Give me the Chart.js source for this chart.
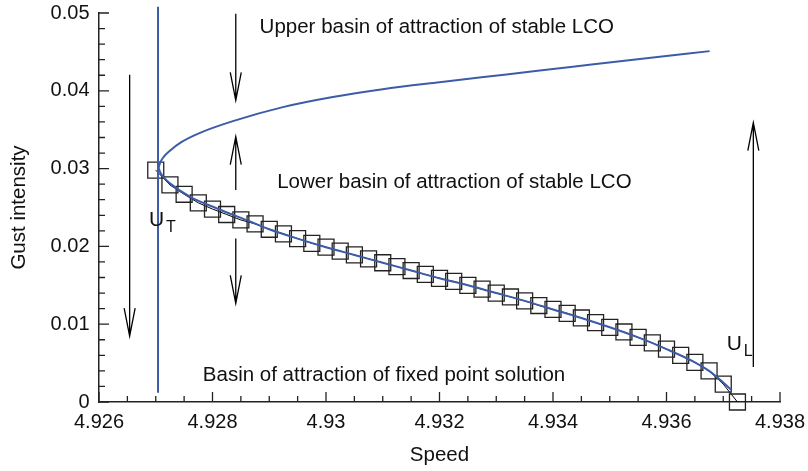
<!DOCTYPE html>
<html>
<head>
<meta charset="utf-8">
<script src="https://cdn.jsdelivr.net/npm/chart.js@4.4.1/dist/chart.umd.min.js"></script>
<style>
  html, body { margin: 0; padding: 0; background: #fff; }
</style>
</head>
<body>
<canvas id="chart" width="808" height="471"></canvas>
<script>
// 축 눈금 /////////////////////////////////////////////////////////////
const xTicks = [4.926, 4.928, 4.93, 4.932, 4.934, 4.936, 4.938];
const xTickLabels = ['4.926', '4.928', '4.93', '4.932', '4.934', '4.936', '4.938'];
const yTicks = [0, 0.01, 0.02, 0.03, 0.04, 0.05];
const yTickLabels = ['0', '0.01', '0.02', '0.03', '0.04', '0.05'];

// 사각형 마커 (unstable branch)
const squareSpeed = [4.927, 4.92725, 4.9275, 4.92775, 4.928, 4.92825, 4.9285, 4.92875, 4.929, 4.92925,
  4.9295, 4.92975, 4.93, 4.93025, 4.9305, 4.93075, 4.931, 4.93125, 4.9315, 4.93175,
  4.932, 4.93225, 4.9325, 4.93275, 4.933, 4.93325, 4.9335, 4.93375, 4.934, 4.93425,
  4.9345, 4.93475, 4.935, 4.93525, 4.9355, 4.93575, 4.936, 4.93625, 4.9365, 4.93675,
  4.937, 4.93725];
const squareGust = [0.0298, 0.0279, 0.0267, 0.0256, 0.0248, 0.0241, 0.0234, 0.0229, 0.0222, 0.0216,
  0.0210, 0.0204, 0.0199, 0.0194, 0.0189, 0.0184, 0.0179, 0.0174, 0.0169, 0.0164,
  0.0159, 0.0155, 0.0150, 0.0145, 0.0140, 0.0135, 0.0130, 0.0124, 0.0119, 0.0114,
  0.0108, 0.0102, 0.0096, 0.0090, 0.0083, 0.0076, 0.0068, 0.0060, 0.0051, 0.0040,
  0.0023, 0.0000];

// 파란 곡선 - 위쪽 가지 (stable LCO)
const upperSpeed = [4.92705, 4.92708, 4.92714, 4.92725, 4.92745, 4.92778, 4.92836, 4.92924, 4.93012,
  4.931, 4.932, 4.93318, 4.93435, 4.93553, 4.93676];
const upperGust = [0.0301, 0.0308, 0.0315, 0.0323, 0.0334, 0.0346, 0.0361, 0.0379, 0.0392,
  0.0402, 0.0411, 0.0421, 0.0431, 0.0441, 0.0451];

// 파란 곡선 - 아래쪽 가지
const lowerSpeed = [4.92705, 4.92708, 4.92715, 4.92725, 4.9276, 4.92807, 4.92866, 4.929, 4.9295,
  4.93, 4.9305, 4.931, 4.9315, 4.932, 4.9325, 4.933, 4.9335, 4.934, 4.9345, 4.935, 4.9355,
  4.936, 4.9365, 4.93675, 4.937, 4.93715];
const lowerGust = [0.0301, 0.0295, 0.0288, 0.0281, 0.0264, 0.0249, 0.0232, 0.0222, 0.0210,
  0.0199, 0.0189, 0.0179, 0.0169, 0.0159, 0.0150, 0.0140, 0.0130, 0.0119, 0.0108, 0.0096, 0.0083,
  0.0068, 0.0051, 0.0040, 0.0025, 0.0015];

// 세로선 U_T
const vlineSpeed = [4.92704, 4.92704];
const vlineGust = [0.0012, 0.0508];

// 화살표 (x, 시작, 끝=화살촉)
const arrowSpeed = [4.92654, 4.92841, 4.92841, 4.92841, 4.93753];
const arrowFrom = [0.04207, 0.0499, 0.02725, 0.02103, 0.0045];
const arrowTo = [0.00846, 0.03878, 0.0341, 0.01267, 0.03592];

// 글자 주석
const notes = [
  { text: 'Upper basin of attraction of stable LCO', x: 4.92883, y: 0.04743 },
  { text: 'Lower basin of attraction of stable LCO', x: 4.92914, y: 0.02747 },
  { text: 'Basin of attraction of fixed point solution', x: 4.92783, y: 0.00267 }
];
const subNotes = [
  { main: 'U', sub: 'T', x: 4.92688, y: 0.02262 },
  { main: 'U', sub: 'L', x: 4.93706, y: 0.00666 }
];

const pts = (xs, ys) => xs.map((v, i) => ({ x: v, y: ys[i] }));
const blue = '#3d5ca8';
const FONT = "'Liberation Sans', Arial, sans-serif";

// 안쪽 눈금 + 화살표 + 글자
const extras = {
  id: 'extras',
  afterDatasetsDraw(chart) {
    const { ctx, chartArea: a, scales: { x, y } } = chart;
    ctx.save();
    ctx.strokeStyle = '#222';
    ctx.lineWidth = 1.3;
    ctx.beginPath();
    // x 눈금 (위로)
    for (let i = 0; i < xTicks.length; i++) {
      const sub = i < xTicks.length - 1 ? 4 : 1;
      const step = i < xTicks.length - 1 ? (xTicks[i + 1] - xTicks[i]) / 4 : 0;
      for (let k = 0; k < sub; k++) {
        const px = x.getPixelForValue(xTicks[i] + k * step);
        ctx.moveTo(px, a.bottom);
        ctx.lineTo(px, a.bottom - (k === 0 ? 10 : 6));
      }
    }
    // y 눈금 (오른쪽으로)
    for (let i = 0; i < yTicks.length; i++) {
      const sub = i < yTicks.length - 1 ? 5 : 1;
      const step = i < yTicks.length - 1 ? (yTicks[i + 1] - yTicks[i]) / 5 : 0;
      for (let k = 0; k < sub; k++) {
        const py = y.getPixelForValue(yTicks[i] + k * step);
        ctx.moveTo(a.left, py);
        ctx.lineTo(a.left + (k === 0 ? 10 : 6), py);
      }
    }
    ctx.stroke();

    // 화살표
    ctx.strokeStyle = '#000';
    ctx.lineWidth = 1.3;
    arrowSpeed.forEach((sp, i) => {
      const px = x.getPixelForValue(sp);
      const y0 = y.getPixelForValue(arrowFrom[i]);
      const y1 = y.getPixelForValue(arrowTo[i]);
      const dir = y1 > y0 ? 1 : -1;
      ctx.beginPath();
      ctx.moveTo(px, y0);
      ctx.lineTo(px, y1);
      ctx.moveTo(px - 5.5, y1 - dir * 28);
      ctx.lineTo(px, y1);
      ctx.lineTo(px + 5.5, y1 - dir * 28);
      ctx.stroke();
    });

    // 주석 글자
    ctx.fillStyle = '#111';
    ctx.textBaseline = 'alphabetic';
    ctx.textAlign = 'left';
    ctx.font = '20.5px ' + FONT;
    notes.forEach(n => ctx.fillText(n.text, x.getPixelForValue(n.x), y.getPixelForValue(n.y)));
    subNotes.forEach(n => {
      const px = x.getPixelForValue(n.x);
      const py = y.getPixelForValue(n.y);
      ctx.font = '21px ' + FONT;
      ctx.fillText(n.main, px, py);
      const w = ctx.measureText(n.main).width;
      ctx.font = '16px ' + FONT;
      ctx.fillText(n.sub, px + w + 2, py + 6);
    });
    ctx.restore();
  }
};

new Chart(document.getElementById('chart'), {
  type: 'scatter',
  data: {
    datasets: [
      { data: pts(upperSpeed, upperGust), showLine: true, borderColor: blue, borderWidth: 2,
        pointRadius: 0, cubicInterpolationMode: 'monotone' },
      { data: pts(lowerSpeed, lowerGust), showLine: true, borderColor: blue, borderWidth: 2,
        pointRadius: 0, cubicInterpolationMode: 'monotone' },
      { data: pts(vlineSpeed, vlineGust), showLine: true, borderColor: blue, borderWidth: 2,
        pointRadius: 0, clip: false },
      { data: pts(squareSpeed, squareGust), showLine: true, borderColor: '#000', borderWidth: 1,
        pointStyle: 'rect', pointRadius: 11.3, pointBorderColor: '#222', pointBorderWidth: 1.3,
        pointBackgroundColor: 'rgba(0,0,0,0)', clip: false }
    ]
  },
  options: {
    responsive: false,
    animation: false,
    layout: { padding: { left: 0, right: 28, top: 13, bottom: 0 } },
    plugins: { legend: { display: false }, tooltip: { enabled: false } },
    scales: {
      x: {
        type: 'linear', min: 4.926, max: 4.938,
        afterBuildTicks: s => { s.ticks = xTicks.map(v => ({ value: v })); },
        afterFit: s => { s.height = 69; s.paddingLeft = 0; s.paddingRight = 0; },
        grid: { display: false, drawTicks: false },
        border: { display: true, color: '#222', width: 1.5 },
        ticks: { padding: 10, color: '#111', maxRotation: 0, autoSkip: false,
          font: { family: FONT, size: 20, lineHeight: 1 },
          callback: (v, i) => xTickLabels[i] },
        title: { display: true, text: 'Speed', color: '#111',
          font: { family: FONT, size: 20.5, lineHeight: 1 }, padding: { top: 0, bottom: 5 } }
      },
      y: {
        type: 'linear', min: 0, max: 0.05,
        afterBuildTicks: s => { s.ticks = yTicks.map(v => ({ value: v })); },
        afterFit: s => { s.width = 99; s.paddingTop = 0; s.paddingBottom = 0; },
        grid: { display: false, drawTicks: false },
        border: { display: true, color: '#222', width: 1.5 },
        ticks: { padding: 9.5, color: '#111', autoSkip: false,
          font: { family: FONT, size: 20, lineHeight: 1 },
          callback: (v, i) => yTickLabels[i] },
        title: { display: true, text: 'Gust intensity', color: '#111',
          font: { family: FONT, size: 20.5, lineHeight: 1 }, padding: { top: 9, bottom: 0 } }
      }
    }
  },
  plugins: [extras]
});
</script>
</body>
</html>
